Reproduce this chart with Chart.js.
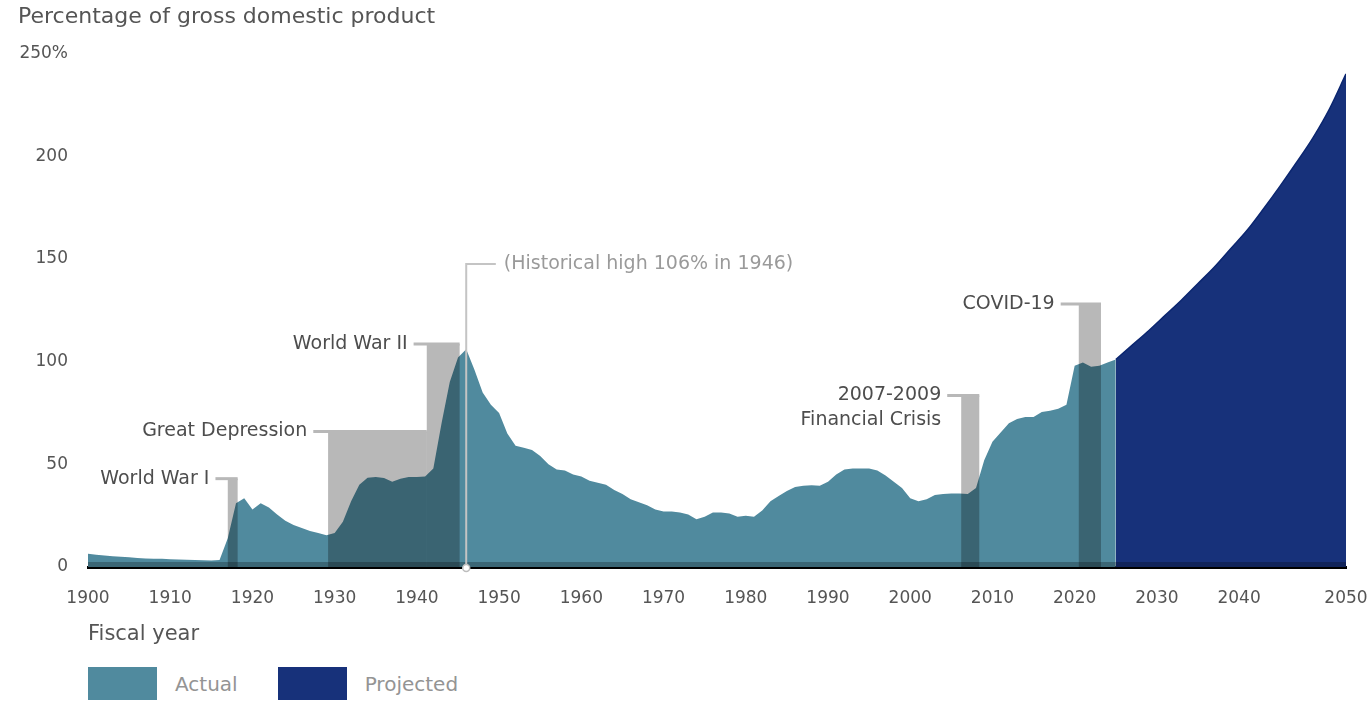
<!DOCTYPE html>
<html>
<head>
<meta charset="utf-8">
<script src="https://cdn.jsdelivr.net/npm/chart.js@4.4.1/dist/chart.umd.min.js"></script>
<style>
  body { margin: 0; background: #fff; font-family: "DejaVu Sans", sans-serif; }
  #wrap { position: relative; width: 1367px; height: 701px; }
  #chart { position: absolute; left: 0; top: 0; }
  #legend { position: absolute; left: 88px; top: 667px; height: 33px; display: flex; align-items: center; color: #949494; font-size: 20px; }
  #legend .box { width: 69px; height: 33px; }
  #legend span { margin-left: 18px; margin-right: 40px; }
</style>
</head>
<body>
<div id="wrap">
  <canvas id="chart" width="1367" height="660"></canvas>
  <div id="legend">
    <div class="box" style="background:#508a9e"></div><span>Actual</span>
    <div class="box" style="background:#17317a"></div><span>Projected</span>
  </div>
</div>
<script>
// 実績（会計年度, GDP比%）
const actualYears = [];
for (let y = 1900; y <= 2025; y++) actualYears.push(y);
const actualValues = [
  6.5, 6.0, 5.6, 5.2, 5.0, 4.7, 4.4, 4.1, 4.0, 4.0,
  3.8, 3.6, 3.5, 3.4, 3.3, 3.2, 3.4, 14.0, 31.0, 33.5,
  28.0, 31.0, 29.0, 25.5, 22.5, 20.5, 19.0, 17.5, 16.5, 15.5,
  16.5, 22.0, 32.0, 40.0, 43.5, 43.8, 43.3, 41.5, 43.0, 43.8,
  43.8, 44.0, 48.0, 70.0, 90.0, 102.0, 106.0, 96.0, 85.0, 79.0,
  75.0, 65.0, 59.0, 58.0, 57.0, 54.0, 50.0, 47.5, 47.0, 45.0,
  44.0, 42.0, 41.0, 40.0, 37.5, 35.5, 33.0, 31.5, 30.0, 28.0,
  27.0, 27.0, 26.5, 25.5, 23.3, 24.5, 26.5, 26.5, 26.0, 24.5,
  25.0, 24.5, 27.5, 32.0, 34.5, 37.0, 39.0, 39.5, 39.8, 39.5,
  41.5, 45.0, 47.5, 48.0, 48.0, 48.0, 47.0, 44.5, 41.5, 38.5,
  33.5, 32.0, 33.0, 35.0, 35.5, 35.8, 35.8, 35.5, 38.5, 52.0,
  61.0, 65.5, 70.0, 72.0, 73.0, 73.0, 75.5, 76.0, 77.0, 79.0,
  98.0, 99.5, 97.5, 98.0, 99.5, 101.0
];

// 予測
const projYears = [2025, 2027, 2029, 2031, 2033, 2035, 2037, 2039, 2041, 2043, 2045, 2047, 2049, 2051, 2053];
const projValues = [101, 108, 115, 122.5, 130, 138, 146, 155, 164, 174.5, 185.5, 197, 209, 223, 240];

// 目盛り
const xTickYears = [1900, 1910, 1920, 1930, 1940, 1950, 1960, 1970, 1980, 1990, 2000, 2010, 2020, 2030, 2040, 2053];
const xTickLabels = ["1900", "1910", "1920", "1930", "1940", "1950", "1960", "1970", "1980", "1990", "2000", "2010", "2020", "2030", "2040", "2050"];
const yTickValues = [0, 50, 100, 150, 200, 250];
const yTickLabels = ["0", "50", "100", "150", "200", "250%"];

// 出来事の帯
const eventNames = [["World War I"], ["Great Depression"], ["World War II"], ["2007-2009", "Financial Crisis"], ["COVID-19"]];
const eventStart = [1917, 1929.2, 1941.2, 2006.2, 2020.5];
const eventEnd = [1918.2, 1941.2, 1945.2, 2008.4, 2023.2];
const eventTop = [43, 66, 108.5, 83.5, 128];
const eventLabelAt = [1915.5, 1927.4, 1939.6, 2004.5, 2018.3];

// 過去最高
const highYear = 1946;
const highTop = 147.5;
const highLabelAt = 1949.6;
const highLabel = "(Historical high 106% in 1946)";

const FONT = "DejaVu Sans";

const eventPlugin = {
  id: "events",
  afterDatasetsDraw(chart) {
    const ctx = chart.ctx;
    const xs = chart.scales.x, ys = chart.scales.y;
    const y0 = ys.getPixelForValue(0);
    ctx.save();
    ctx.globalCompositeOperation = "multiply";
    // 基線の帯
    ctx.fillStyle = "#bcbcbc";
    ctx.fillRect(xs.getPixelForValue(1900), y0 - 5, xs.getPixelForValue(2053) - xs.getPixelForValue(1900), 5);
    // 出来事の帯
    ctx.fillStyle = "#b8b8b8";
    eventNames.forEach((n, i) => {
      const x1 = xs.getPixelForValue(eventStart[i]);
      const x2 = xs.getPixelForValue(eventEnd[i]);
      const yt = ys.getPixelForValue(eventTop[i]);
      ctx.fillRect(x1, yt, x2 - x1, y0 - yt);
    });
    ctx.restore();

    ctx.save();
    ctx.strokeStyle = "#b8b8b8";
    ctx.lineWidth = 3;
    ctx.font = "19px '" + FONT + "'";
    ctx.fillStyle = "#4d4d4d";
    ctx.textAlign = "right";
    ctx.textBaseline = "middle";
    eventNames.forEach((n, i) => {
      const xa = xs.getPixelForValue(eventLabelAt[i]);
      const x2 = xs.getPixelForValue(eventEnd[i]);
      const yt = ys.getPixelForValue(eventTop[i]);
      ctx.beginPath();
      ctx.moveTo(xa, yt);
      ctx.lineTo(x2, yt);
      ctx.stroke();
      n.forEach((line, k) => ctx.fillText(line, xa - 6, yt + k * 25));
    });

    // 過去最高の線
    const hx = xs.getPixelForValue(highYear);
    const hy = ys.getPixelForValue(highTop);
    ctx.strokeStyle = "#c4c4c4";
    ctx.lineWidth = 2;
    ctx.beginPath();
    ctx.moveTo(hx, y0 + 2);
    ctx.lineTo(hx, hy);
    ctx.lineTo(xs.getPixelForValue(highLabelAt), hy);
    ctx.stroke();
    ctx.fillStyle = "#9a9a9a";
    ctx.textAlign = "left";
    ctx.fillText(highLabel, xs.getPixelForValue(highLabelAt) + 8, hy);
    ctx.restore();
  },
  afterDraw(chart) {
    const ctx = chart.ctx;
    const xs = chart.scales.x, ys = chart.scales.y;
    ctx.save();
    ctx.fillStyle = "#fff";
    ctx.strokeStyle = "#bdbdbd";
    ctx.lineWidth = 1.5;
    ctx.beginPath();
    ctx.arc(xs.getPixelForValue(highYear), ys.getPixelForValue(0) + 1, 3.5, 0, Math.PI * 2);
    ctx.fill();
    ctx.stroke();
    ctx.restore();
  }
};

const ctx = document.getElementById("chart").getContext("2d");
new Chart(ctx, {
  type: "line",
  data: {
    datasets: [
      {
        label: "Actual",
        data: actualYears.map((x, i) => ({ x: x, y: actualValues[i] })),
        fill: "origin",
        backgroundColor: "#508a9e",
        borderWidth: 0,
        pointRadius: 0
      },
      {
        label: "Projected",
        data: projYears.map((x, i) => ({ x: x, y: projValues[i] })),
        fill: "origin",
        backgroundColor: "#17317a",
        borderColor: "#0b2670",
        borderWidth: 1.5,
        cubicInterpolationMode: "monotone",
        pointRadius: 0
      }
    ]
  },
  options: {
    responsive: false,
    animation: false,
    layout: { padding: { left: 18, right: 0, top: 0, bottom: 13 } },
    plugins: {
      legend: { display: false },
      tooltip: { enabled: false },
      title: {
        display: true,
        text: "Percentage of gross domestic product",
        align: "start",
        color: "#555",
        font: { family: FONT, size: 22, weight: "normal" },
        padding: { top: 4, bottom: 23 }
      }
    },
    scales: {
      x: {
        type: "linear",
        min: 1900,
        max: 2053,
        grid: { display: false, drawTicks: false },
        border: { color: "#000", width: 3 },
        afterBuildTicks: s => { s.ticks = xTickYears.map(v => ({ value: v })); },
        afterFit: s => { s.height = 80; s.paddingRight = 21; },
        ticks: {
          autoSkip: false,
          maxRotation: 0,
          padding: 21,
          color: "#555",
          font: { family: FONT, size: 17 },
          callback: v => xTickLabels[xTickYears.indexOf(v)]
        },
        title: {
          display: true,
          text: "Fiscal year",
          align: "start",
          color: "#555",
          font: { family: FONT, size: 21 },
          padding: { top: 0, bottom: 0 }
        }
      },
      y: {
        min: 0,
        max: 250,
        grid: { display: false, drawTicks: false },
        border: { display: false },
        afterBuildTicks: s => { s.ticks = yTickValues.map(v => ({ value: v })); },
        afterFit: s => { s.width = 70; },
        ticks: {
          padding: 20,
          color: "#555",
          font: { family: FONT, size: 17 },
          callback: v => yTickLabels[yTickValues.indexOf(v)]
        }
      }
    }
  },
  plugins: [eventPlugin]
});
</script>
</body>
</html>
